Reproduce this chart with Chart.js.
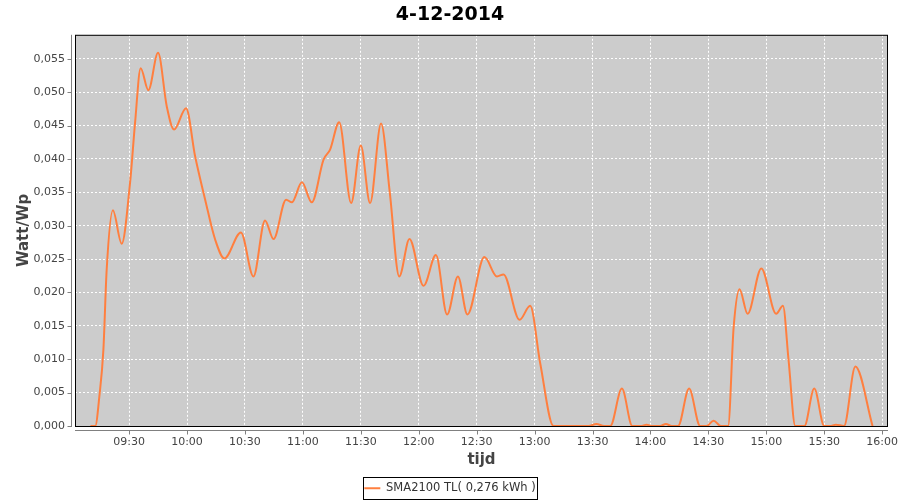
<!DOCTYPE html>
<html>
<head>
<meta charset="utf-8">
<script src="https://cdn.jsdelivr.net/npm/chart.js@4/dist/chart.umd.min.js"></script>
<style>
  html, body { margin: 0; padding: 0; background: #fff; }
  #wrap { width: 900px; height: 500px; }
</style>
</head>
<body>
<div id="wrap"><canvas id="dayChart" width="900" height="500"></canvas></div>
<script>
// time of day in minutes since midnight
const TIMES = [550, 552.5, 554.6, 556.7, 558.4, 561.6, 566.2, 570.5, 573.1, 576, 580, 585, 589.5, 593.3, 599.5,
  604.2, 609.4, 614.6, 619.4, 627.9, 634.4, 640.4, 644.8, 651.3, 654.3, 659.5, 664.6, 670.7, 674.1, 678.8,
  685, 690, 694.8, 700.5, 705, 709.9, 715.2, 722.5, 728.9, 734.7, 740.3, 745.2, 754, 760.5, 763.9, 772.2,
  777.7, 782.9, 789.8, 800, 808, 812, 816, 819.2, 825.2, 830.6, 835, 838, 841, 845, 848, 851, 854.3, 860,
  865.7, 869, 872.7, 876.5, 880.2, 883.1, 886.1, 890.3, 897.4, 905.1, 908.6, 911.5, 915, 919.7, 924.8, 930,
  933, 936, 940.2, 946.1, 955];

// Watt/Wp
const WATT_WP = [0, 0, 0.0044, 0.0114, 0.0234, 0.0323, 0.0273, 0.0364, 0.0454, 0.0536, 0.0503, 0.0559, 0.0479, 0.0444, 0.0476,
  0.0404, 0.0339, 0.0279, 0.0251, 0.0290, 0.0224, 0.0308, 0.0280, 0.0339, 0.0335, 0.0365, 0.0335, 0.0399, 0.0414, 0.0455,
  0.0334, 0.0420, 0.0334, 0.0453, 0.0350, 0.0224, 0.0280, 0.0210, 0.0256, 0.0167, 0.0224, 0.0167, 0.0253, 0.0224, 0.0227, 0.0159,
  0.0180, 0.0094, 0, 0, 0, 0.0003, 0, 0, 0.0056, 0, 0, 0.0002, 0, 0, 0.0003, 0, 0, 0.0056,
  0, 0, 0.0008, 0, 0, 0.0149, 0.0205, 0.0168, 0.0236, 0.0168, 0.0180, 0.0099, 0, 0, 0.0056, 0,
  0, 0.0002, 0, 0.0089, 0];

const SERIES_LABEL = 'SMA2100 TL( 0,276 kWh )';
const TITLE = '4-12-2014';
const X_MIN = 542, X_MAX = 963;   // 09:02 .. 16:03
const Y_MAX = 0.0586;

const FONT = "'DejaVu Sans', sans-serif";
const ORANGE = '#ff7f3f';

function fmtTime(m) {
  const h = Math.floor(m / 60), mm = Math.round(m % 60);
  return String(h).padStart(2, '0') + ':' + String(mm).padStart(2, '0');
}

// ── plot background, offset axes, legend frame ──────────────────
const jfreeLook = {
  id: 'jfreeLook',
  beforeDraw(chart) {
    const { ctx, chartArea: a } = chart;
    ctx.save();
    ctx.fillStyle = '#cccccc';
    ctx.fillRect(a.left, a.top, a.right - a.left, a.bottom - a.top);
    ctx.restore();
  },
  afterDraw(chart) {
    const { ctx, chartArea: a, scales } = chart;
    ctx.save();
    ctx.strokeStyle = '#000';
    ctx.lineWidth = 1;
    ctx.strokeRect(a.left + 0.5, a.top + 0.5, a.right - a.left - 1, a.bottom - a.top);

    ctx.strokeStyle = '#808080';
    ctx.beginPath();
    const ax = a.left - 3.5;
    ctx.moveTo(ax, a.top); ctx.lineTo(ax, a.bottom + 1);
    scales.y.ticks.forEach(t => {
      const py = Math.round(scales.y.getPixelForValue(t.value)) + 0.5;
      ctx.moveTo(ax - 4, py); ctx.lineTo(ax, py);
    });
    const ay = a.bottom + 4.5;
    ctx.moveTo(a.left, ay); ctx.lineTo(a.right, ay);
    scales.x.ticks.forEach(t => {
      const px = Math.round(scales.x.getPixelForValue(t.value)) + 0.5;
      ctx.moveTo(px, ay); ctx.lineTo(px, ay + 4);
    });
    ctx.stroke();

    const hb = chart.legend.legendHitBoxes[0];
    if (hb) {
      ctx.strokeStyle = '#000';
      ctx.strokeRect(Math.round(hb.left) - 0.5, Math.round(hb.top) - 5.5, Math.round(hb.width) + 3, Math.round(hb.height) + 10);
    }
    ctx.restore();
  }
};

new Chart(document.getElementById('dayChart'), {
  type: 'line',
  data: {
    datasets: [{
      label: SERIES_LABEL,
      data: TIMES.map((t, i) => ({ x: t, y: WATT_WP[i] })),
      borderColor: ORANGE,
      backgroundColor: ORANGE,
      borderWidth: 2,
      pointRadius: 0,
      cubicInterpolationMode: 'monotone',
      fill: false
    }]
  },
  options: {
    responsive: false,
    animation: false,
    layout: { padding: { left: 0, right: 0, top: 0, bottom: -4 } },
    plugins: {
      tooltip: { enabled: false },
      title: {
        display: true,
        text: TITLE,
        color: '#000',
        font: { family: FONT, size: 19, weight: 'bold' },
        padding: { top: 4, bottom: 8 }
      },
      legend: {
        position: 'bottom',
        labels: {
          color: '#333',
          font: { family: FONT, size: 11.5 },
          boxWidth: 16,
          boxHeight: 2,
          padding: 2,
          generateLabels: chart => [{
            text: SERIES_LABEL,
            fillStyle: ORANGE,
            strokeStyle: ORANGE,
            lineWidth: 0,
            fontColor: '#333',
            datasetIndex: 0
          }]
        }
      }
    },
    scales: {
      x: {
        type: 'linear',
        min: X_MIN,
        max: X_MAX,
        afterFit: s => { s.height = 54.5; s.paddingLeft = 0; s.paddingRight = 12; },
        grid: { color: '#ffffff', drawTicks: false },
        border: { display: false, dash: [2, 2] },
        ticks: {
          stepSize: 30,
          includeBounds: false,
          maxTicksLimit: 30,
          autoSkip: false,
          maxRotation: 0,
          padding: 10,
          color: '#444',
          font: { family: FONT, size: 11 },
          callback: v => fmtTime(v)
        },
        title: {
          display: true,
          text: 'tijd',
          color: '#444',
          font: { family: FONT, size: 15, weight: 'bold' },
          padding: { top: 0, bottom: 11 }
        }
      },
      y: {
        min: 0,
        max: Y_MAX,
        afterFit: s => { s.width = 75; s.paddingTop = 0; s.paddingBottom = 0; },
        grid: { color: '#ffffff', drawTicks: false },
        border: { display: false, dash: [2, 2] },
        ticks: {
          stepSize: 0.005,
          includeBounds: false,
          maxTicksLimit: 30,
          padding: 10,
          color: '#444',
          font: { family: FONT, size: 11 },
          callback: v => v.toFixed(3).replace('.', ',')
        },
        title: {
          display: true,
          text: 'Watt/Wp',
          color: '#444',
          font: { family: FONT, size: 15, weight: 'bold' },
          padding: { top: 15, bottom: 0 }
        }
      }
    }
  },
  plugins: [jfreeLook]
});
</script>
</body>
</html>
